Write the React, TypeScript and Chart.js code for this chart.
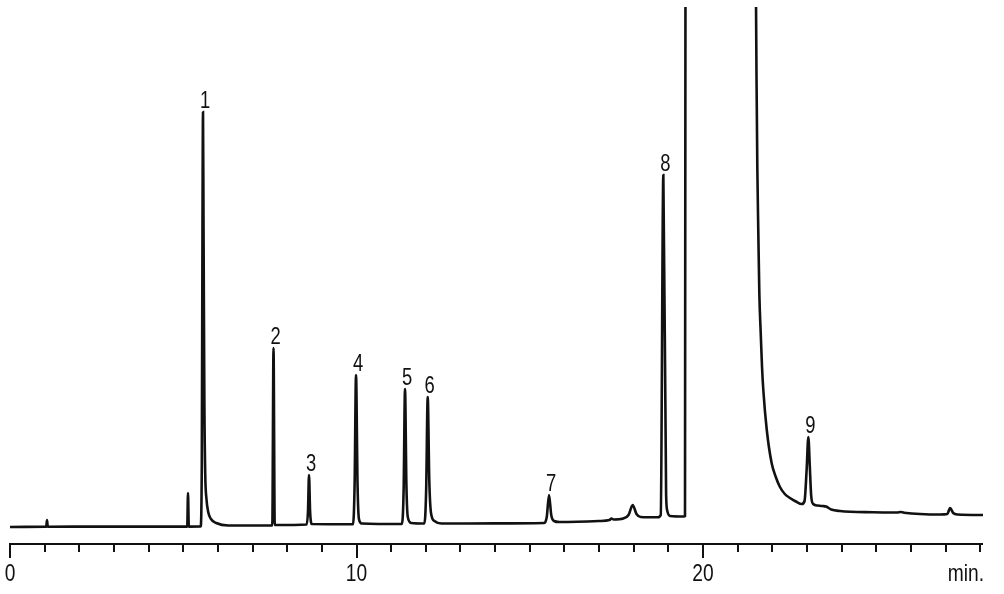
import React, { useEffect, useRef } from "react";
import { Chart, registerables } from "chart.js";

Chart.register(...registerables);

// Retention time (min) of each recorded trace point
const traceTimes: number[] = [
  0.0, 1.0, 1.045, 1.068, 1.09, 2.5, 4.0, 5.115, 5.137, 5.16,
  5.5, 5.535, 5.555, 5.57, 5.585, 5.61, 5.635, 5.67, 5.72, 5.8, 5.95, 6.3,
  7.0, 7.57, 7.605, 7.64, 7.7,
  8.56, 8.6, 8.629, 8.66, 8.71,
  9.9, 9.945, 9.986, 10.03, 10.07, 10.15,
  11.31, 11.36, 11.4, 11.44, 11.48, 11.58,
  11.96, 12.01, 12.055, 12.1, 12.15, 12.25, 12.45,
  14.0, 15.42, 15.49, 15.556, 15.62, 15.7, 15.85,
  17.0, 17.3, 17.36, 17.42, 17.7, 17.85, 17.97, 18.08, 18.2, 18.7,
  18.78, 18.855, 18.935, 18.97, 19.05, 19.45, 19.48, 19.5,
  20.5, 21.5, 21.53, 21.55, 21.567, 21.596, 21.625, 21.665, 21.703, 21.74,
  21.84, 21.98, 22.1, 22.22, 22.36, 22.51, 22.68, 22.85,
  22.93, 22.99, 23.04, 23.08, 23.12, 23.18, 23.3, 23.45, 23.55, 23.7, 23.95,
  24.9, 25.6, 25.7, 25.8, 26.84, 27.05, 27.13, 27.22, 27.35, 28.08,
];

// Detector signal (arbitrary units) at each trace point
const traceSignal: number[] = [
  -2, -1.8, -1.7, 5, -1.7, -1.6, -1.6, -1.6, 32, -1.6,
  -1.5, 60, 300, 413, 300, 120, 50, 26, 13, 6, 2, -0.5,
  -0.5, -0.4, 177, 0, 0,
  0.5, 14, 50, 14, 1,
  0.8, 40, 150, 40, 6, 1.5,
  1, 35, 136, 40, 8, 2,
  1.5, 35, 128, 45, 12, 4, 1.5,
  1.6, 2, 8, 30, 10, 4, 3,
  4, 5, 6.5, 5.5, 6.5, 10, 20, 11, 8, 7.7,
  10, 350, 30, 14, 9, 8.5, 9, 800,
  3000, 900, 518, 425, 358, 292, 232, 192, 158, 135,
  95, 62, 48, 38, 31, 27, 23.5, 21,
  24, 55, 88, 60, 30, 21, 19.5, 19, 18.5, 15.5, 14,
  12.7, 12.5, 13, 12.3, 10.5, 11, 17, 12, 10.5, 10,
];

// Numbered peaks and their apex retention times
const peakLabels: string[] = ["1", "2", "3", "4", "5", "6", "7", "8", "9"];
const peakApexTimes: number[] = [5.57, 7.605, 8.629, 9.986, 11.4, 12.055, 15.556, 18.855, 23.04];

// Axis
const xTickLabels: number[] = [0, 10, 20];
const xUnitLabel = "min.";
const X_MIN = 0;
const X_MAX = 28.08;
const Y_MIN = -19;
const Y_MAX = 518;

const FONT = "'Liberation Sans Narrow', 'Arial Narrow', 'Liberation Sans', sans-serif";
const INK = "#111";
const CONDENSE = 0.8;

function condensedText(ctx: CanvasRenderingContext2D, text: string, x: number, y: number) {
  ctx.save();
  ctx.translate(x, y);
  ctx.scale(CONDENSE, 1);
  ctx.fillText(text, 0, 0);
  ctx.restore();
}

const chromPlugin = {
  id: "chromDecor",
  afterDatasetsDraw(chart: any) {
    const { ctx, chartArea: a, scales } = chart;
    const x = scales.x;
    const y = scales.y;
    ctx.save();
    ctx.strokeStyle = INK;
    ctx.lineWidth = 2;
    ctx.beginPath();
    ctx.moveTo(a.left - 1, a.bottom);
    ctx.lineTo(a.right, a.bottom);
    ctx.stroke();
    for (let t = Math.ceil(X_MIN); t <= Math.floor(X_MAX); t++) {
      const px = Math.round(x.getPixelForValue(t));
      const len = t % 10 === 0 ? 14 : 8;
      ctx.beginPath();
      ctx.moveTo(px, a.bottom);
      ctx.lineTo(px, a.bottom + len);
      ctx.stroke();
    }
    ctx.fillStyle = INK;
    ctx.font = `24px ${FONT}`;
    ctx.textBaseline = "alphabetic";
    ctx.textAlign = "center";
    xTickLabels.forEach((v) => condensedText(ctx, String(v), x.getPixelForValue(v), a.bottom + 37));
    ctx.textAlign = "right";
    condensedText(ctx, xUnitLabel, a.right + 1, a.bottom + 37);

    ctx.font = `23px ${FONT}`;
    ctx.textAlign = "center";
    peakLabels.forEach((lab, i) => {
      const t = peakApexTimes[i];
      const idx = traceTimes.indexOf(t);
      const v = traceSignal[idx];
      condensedText(ctx, lab, x.getPixelForValue(t) + 2, y.getPixelForValue(v) - 4);
    });
    ctx.restore();
  },
};

export default function App() {
  const canvasRef = useRef<HTMLCanvasElement | null>(null);

  useEffect(() => {
    if (!canvasRef.current) return;
    const data = traceTimes.map((t, i) => ({ x: t, y: traceSignal[i] }));
    const chart = new Chart(canvasRef.current, {
      type: "line",
      data: {
        datasets: [
          {
            data,
            borderColor: INK,
            borderWidth: 2.6,
            pointRadius: 0,
            fill: false,
            cubicInterpolationMode: "monotone",
          },
        ],
      },
      options: {
        animation: false,
        responsive: false,
        devicePixelRatio: 1,
        layout: { padding: { left: 10, right: 21, top: 7, bottom: 50 } },
        plugins: { legend: { display: false }, tooltip: { enabled: false } },
        scales: {
          x: { type: "linear", min: X_MIN, max: X_MAX, display: false },
          y: { type: "linear", min: Y_MIN, max: Y_MAX, display: false },
        },
      },
      plugins: [chromPlugin],
    });
    return () => chart.destroy();
  }, []);

  return (
    <div style={{ position: "fixed", left: 0, top: 0, width: 1004, height: 594, background: "#fff" }}>
      <canvas ref={canvasRef} width={1004} height={594} style={{ display: "block" }} />
    </div>
  );
}
